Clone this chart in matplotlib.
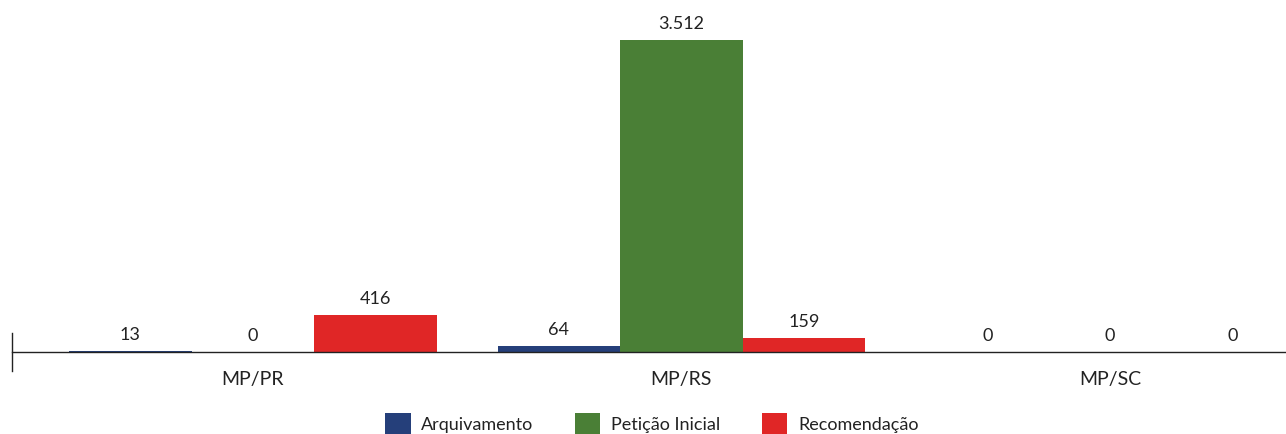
import numpy as np
import matplotlib
matplotlib.use("Agg")
import matplotlib.pyplot as plt

# Dados
categorias = ["MP/PR", "MP/RS", "MP/SC"]
series = ["Arquivamento", "Petição Inicial", "Recomendação"]
arquivamento = [13, 64, 0]
peticao_inicial = [0, 3512, 0]
recomendacao = [416, 159, 0]
rotulos = [
    ["13", "64", "0"],
    ["0", "3.512", "0"],
    ["416", "159", "0"],
]
cores = ["#253f7a", "#4a7f36", "#e02626"]

plt.rcParams["font.family"] = ["Lato", "DejaVu Sans"]

fig = plt.figure(figsize=(12.86, 4.34), dpi=100)
ax = fig.add_axes([12 / 1286, (434 - 352) / 434, 1 - 12 / 1286, (352 - 10) / 434])

x = np.arange(len(categorias))
largura = 0.286
valores = [arquivamento, peticao_inicial, recomendacao]

for i, (nome, vals, cor) in enumerate(zip(series, valores, cores)):
    pos = x + (i - 1) * largura
    ax.bar(pos, vals, width=largura, color=cor, label=nome)
    for p, v, txt in zip(pos, vals, rotulos[i]):
        ax.annotate(txt, (p, v), xytext=(0, 6), textcoords="offset points",
                    ha="center", va="bottom", fontsize=13, color="#222222")

ax.set_xlim(-0.5624, 2.411)
ax.set_ylim(0, 3850)
ax.set_yticks([])
ax.set_xticks(x)
ax.set_xticklabels(categorias, fontsize=14, color="#222222")
ax.tick_params(axis="x", length=0, pad=14)

for lado in ["top", "right", "left"]:
    ax.spines[lado].set_visible(False)
ax.spines["bottom"].set_color("#222222")
ax.spines["bottom"].set_linewidth(1)

# marca vertical à esquerda
ax.plot([-0.5624, -0.5624], [-210, 210], color="#222222", lw=1, clip_on=False)

fig.legend(loc="lower center", bbox_to_anchor=(0.507, -0.038), ncol=3, frameon=False,
           fontsize=13, handlelength=1.4, handleheight=1.4, columnspacing=2.3,
           handletextpad=0.6, labelcolor="#222222")

fig.savefig("out.png", dpi=100)
